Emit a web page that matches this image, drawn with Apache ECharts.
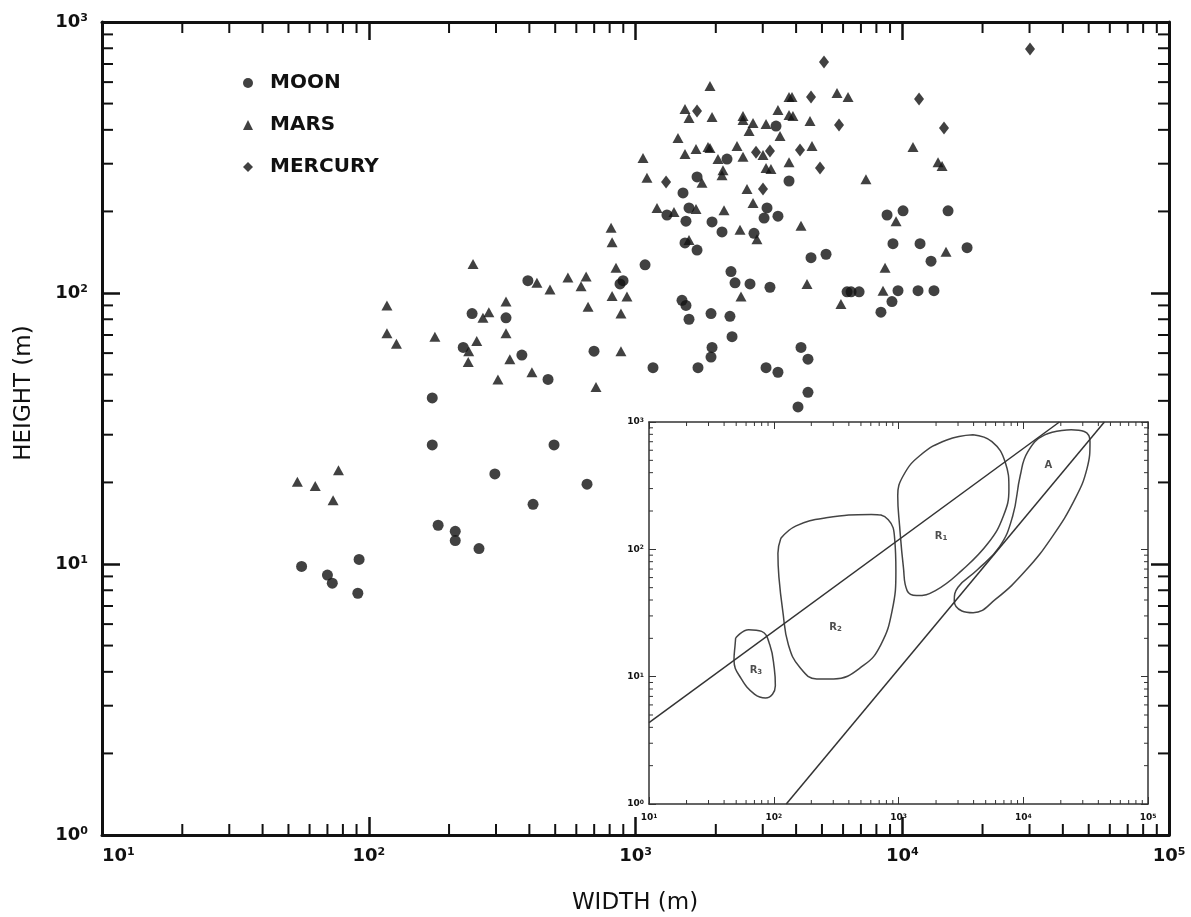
<!DOCTYPE html>
<html>
<head>
<meta charset="utf-8">
<script src="https://cdn.jsdelivr.net/npm/echarts@6/dist/echarts.min.js"></script>
<style>
  html, body { margin: 0; background: #fff; }
  #chart { width: 1191px; height: 917px; }
</style>
</head>
<body>
<div id="chart"></div>
<script>
// width (m), height (m)
const moonData = [
  [56, 9.8], [70, 9.1], [73, 8.5], [92, 10.4], [91, 7.8],
  [173, 41], [173, 27.5], [182, 13.9], [211, 13.2], [211, 12.2], [259, 11.4], [297, 21.5], [413, 16.6], [495, 27.5], [658, 19.7],
  [244, 84], [327, 81], [226, 63], [375, 59], [470, 48], [395, 111], [699, 61], [875, 108], [898, 111], [1086, 127], [1163, 53],
  [1494, 94], [1546, 90], [1587, 80], [1919, 84], [2260, 82], [2301, 69], [1936, 63], [1919, 58], [1715, 53], [3086, 53], [3420, 51],
  [3364, 413], [2203, 312], [1701, 268], [1507, 234], [1312, 194], [1587, 206], [3112, 206], [3034, 189], [3420, 192], [1546, 184],
  [1936, 183], [2110, 168], [2781, 166], [1533, 153], [1701, 144], [2280, 120], [2361, 109], [2687, 108], [3192, 105],
  [3763, 259], [8770, 194], [10070, 201], [14850, 201], [9230, 152], [11660, 152], [17500, 147], [5180, 139], [4550, 135],
  [12820, 131], [6210, 101], [6430, 101], [6890, 101], [9640, 102], [11460, 102], [13150, 102], [9150, 93], [8320, 85],
  [4173, 63], [4432, 57], [4432, 43], [4066, 38]
];

const marsData = [
  [54, 20.1], [63, 19.4], [77, 22.2], [73.5, 17.2],
  [117, 90], [117, 71], [127, 65],
  [246, 128], [177, 69], [254, 66.5], [237, 61], [236, 55.6], [282, 85], [268, 81], [327, 93], [327, 71], [338, 57], [409, 51], [305, 48],
  [427, 109], [478, 103], [558, 114], [653, 115], [625, 106], [664, 89], [810, 174], [817, 154], [845, 124], [817, 97.5], [929, 97],
  [882, 84], [882, 61], [711, 45],
  [1902, 580], [1533, 477], [1587, 442], [1936, 446], [2529, 450], [2529, 435], [2758, 424], [2665, 396], [3086, 420], [3420, 473],
  [3482, 380], [1443, 373], [1533, 326], [1686, 340], [1870, 346], [1902, 343], [2402, 349], [2529, 318], [3006, 323], [2038, 312],
  [2128, 284], [2110, 272], [3086, 289], [3219, 287], [1067, 315], [1104, 266], [1775, 255], [2618, 242], [1204, 206], [1394, 199],
  [1686, 204], [2147, 202], [2758, 215], [2465, 171], [2853, 158], [1587, 157], [2486, 97],
  [3763, 529], [3861, 529], [5694, 547], [6263, 529], [3763, 454], [3892, 450], [4510, 431], [4588, 349], [3763, 304],
  [10970, 346], [13620, 304], [14100, 294], [7310, 263], [9480, 184], [4173, 177], [14590, 142], [8620, 124], [4395, 108],
  [8470, 102], [5890, 91]
];

const mercuryData = [
  [1701, 469], [2830, 331], [3192, 334], [1302, 257], [3006, 242], [30130, 795], [5089, 712], [4550, 529],
  [11560, 520], [5794, 417], [14340, 406], [4137, 337], [4917, 289]
];

// inset: outlines of the fields and the two straight lines
const r3Outline = [
  [49.5, 20.1], [63, 23.4], [80, 22.7], [93, 17.8], [101, 11.6], [103, 8.5], [86, 6.8], [70, 7.3], [55, 9.6], [48, 13.5], [49, 17.8], [49.5, 20.1]
];
const r2Outline = [
  [114, 122], [151, 153], [263, 177], [605, 188], [828, 171], [933, 119], [953, 68], [889, 33], [721, 17.8], [527, 12.3],
  [302, 9.6], [221, 9.6], [161, 11.9], [131, 17.8], [118, 33], [110, 60.5], [108, 93], [114, 122]
];
const r1Outline = [
  [3963, 793], [2438, 723], [1496, 548], [1094, 380], [986, 263], [1021, 152], [1094, 72.8], [1172, 47.4], [1396, 43.3],
  [1977, 47.4], [3221, 68.4], [5236, 112], [6918, 182], [7674, 297], [7161, 485], [5610, 701], [3963, 793]
];
const aOutline = [
  [24210, 869], [14860, 793], [10860, 583], [9462, 380], [8222, 182], [6457, 105], [4246, 68.4], [2999, 50.4], [2799, 39.4],
  [3221, 32.8], [3963, 31.8], [6012, 40.6], [10500, 68.4], [17100, 126], [25940, 248], [32430, 430], [34280, 701], [30830, 843],
  [24210, 869]
];
const line1 = [[10, 4.35], [19500, 1000]];
const line2 = [[126, 1], [44700, 1000]];

const regionNames = ['R3', 'R2', 'R1', 'A'];
const regionPos = [[72, 11.2], [313, 24.2], [2190, 126], [15900, 457]];

const xDecades = [10, 100, 1000, 10000];
const yDecades = [1, 10, 100];
const minorSteps = [2, 3, 4, 5, 6, 7, 8, 9];

const FONT = 'DejaVu Sans';
const INK = '#111';

const minorOf = decades => decades.flatMap(d => minorSteps.map(m => m * d));

function supLabel(size, supSize, margin) {
  return {
    margin: margin,
    formatter: v => '{b|10}{s|' + Math.round(Math.log10(v)) + '}',
    rich: {
      b: { fontSize: size, fontWeight: 'bold', fontFamily: FONT, color: INK },
      s: { fontSize: supSize, fontWeight: 'bold', fontFamily: FONT, color: INK, verticalAlign: 'top' }
    }
  };
}

function logAxis(grid, pos, min, max, o) {
  return {
    type: 'log', logBase: 10, gridIndex: grid, position: pos, min: min, max: max,
    z: o.z,
    axisLine: { lineStyle: { color: o.color, width: o.lineW } },
    axisTick: { inside: true, length: o.tickLen, lineStyle: { color: o.color, width: o.tickW } },
    axisLabel: o.label ? o.label : { show: false },
    splitLine: { show: false }
  };
}

// minor ticks on both sides of a grid, placed through the axes
function minorTicks(xi, yi, vals, isX, lo, hi, len, lw, color, z) {
  return {
    type: 'custom', xAxisIndex: xi, yAxisIndex: yi, silent: true, clip: false, z: z,
    data: vals.map(v => isX ? [v, lo[1]] : [lo[0], v]),
    renderItem: (params, api) => {
      const v = api.value(isX ? 0 : 1);
      const a = api.coord(isX ? [v, lo[1]] : [lo[0], v]);
      const b = api.coord(isX ? [v, hi[1]] : [hi[0], v]);
      const style = { stroke: color, lineWidth: lw };
      const kids = isX ? [
        { type: 'line', shape: { x1: a[0], y1: a[1], x2: a[0], y2: a[1] - len }, style: style },
        { type: 'line', shape: { x1: b[0], y1: b[1], x2: b[0], y2: b[1] + len }, style: style }
      ] : [
        { type: 'line', shape: { x1: a[0], y1: a[1], x2: a[0] + len, y2: a[1] }, style: style },
        { type: 'line', shape: { x1: b[0], y1: b[1], x2: b[0] - len, y2: b[1] }, style: style }
      ];
      return { type: 'group', children: kids };
    }
  };
}

const chart = echarts.init(document.getElementById('chart'));

const mainStyle = { color: INK, lineW: 3, tickLen: 18, tickW: 2.5, z: 2 };
const insetStyle = { color: '#333', lineW: 1.5, tickLen: 7, tickW: 1, z: 11 };

const mainX = logAxis(0, 'bottom', 10, 100000, Object.assign({ label: supLabel(18, 11, 12) }, mainStyle));
mainX.axisLabel.alignMinLabel = 'left';

const outlineSeries = (data) => ({
  type: 'line', xAxisIndex: 2, yAxisIndex: 2, data: data, symbol: 'none', smooth: 0.45,
  lineStyle: { color: '#444', width: 1.5 }, silent: true, z: 12
});

const option = {
  backgroundColor: '#fff',
  animation: false,
  grid: [
    { left: 102, right: 22, top: 22, bottom: 82 },
    { left: 649, right: 43, top: 422, bottom: 113, show: true, backgroundColor: '#fff', borderWidth: 0, z: 10 }
  ],
  legend: {
    data: [{ name: 'MOON', icon: 'circle' }, { name: 'MARS', icon: 'triangle' }, { name: 'MERCURY', icon: 'diamond' }],
    orient: 'vertical', left: 243, top: 72, padding: 0,
    itemWidth: 10, itemHeight: 10, itemGap: 20, selectedMode: false,
    textStyle: { fontFamily: FONT, fontWeight: 'bold', fontSize: 20, color: INK, lineHeight: 22, padding: [0, 0, 0, 12] }
  },
  xAxis: [
    mainX,
    logAxis(0, 'top', 10, 100000, mainStyle),
    logAxis(1, 'bottom', 10, 100000, Object.assign({ label: supLabel(9, 6, 9) }, insetStyle)),
    logAxis(1, 'top', 10, 100000, insetStyle)
  ],
  yAxis: [
    logAxis(0, 'left', 1, 1000, Object.assign({ label: supLabel(18, 11, 14) }, mainStyle)),
    logAxis(0, 'right', 1, 1000, mainStyle),
    logAxis(1, 'left', 1, 1000, Object.assign({ label: supLabel(9, 6, 5) }, insetStyle)),
    logAxis(1, 'right', 1, 1000, insetStyle)
  ],
  graphic: [
    {
      type: 'text', x: 24, y: 393, rotation: Math.PI / 2,
      style: { text: 'HEIGHT (m)', fontFamily: FONT, fontSize: 23, fill: INK, textAlign: 'center', textVerticalAlign: 'middle', align: 'center', verticalAlign: 'middle' }
    },
    {
      type: 'text', x: 635, y: 903,
      style: { text: 'WIDTH (m)', fontFamily: FONT, fontSize: 23, fill: INK, textAlign: 'center', textVerticalAlign: 'middle', align: 'center', verticalAlign: 'middle' }
    }
  ],
  series: [
    { name: 'MOON', type: 'scatter', xAxisIndex: 0, yAxisIndex: 0, data: moonData, symbol: 'circle', symbolSize: 11, itemStyle: { color: INK }, z: 3 },
    { name: 'MARS', type: 'scatter', xAxisIndex: 0, yAxisIndex: 0, data: marsData, symbol: 'triangle', symbolSize: [11, 10], itemStyle: { color: INK }, z: 3 },
    { name: 'MERCURY', type: 'scatter', xAxisIndex: 0, yAxisIndex: 0, data: mercuryData, symbol: 'diamond', symbolSize: [10, 13], itemStyle: { color: INK }, z: 3 },

    minorTicks(0, 0, minorOf(xDecades), true, [10, 1], [100000, 1000], 11, 2, INK, 4),
    minorTicks(0, 0, minorOf(yDecades), false, [10, 1], [100000, 1000], 11, 2, INK, 4),
    minorTicks(2, 2, minorOf(xDecades), true, [10, 1], [100000, 1000], 4, 1, '#333', 12),
    minorTicks(2, 2, minorOf(yDecades), false, [10, 1], [100000, 1000], 4, 1, '#333', 12),

    outlineSeries(r3Outline),
    outlineSeries(r2Outline),
    outlineSeries(r1Outline),
    outlineSeries(aOutline),
    { type: 'line', xAxisIndex: 2, yAxisIndex: 2, data: line1, symbol: 'none', lineStyle: { color: '#333', width: 1.5 }, silent: true, z: 12 },
    { type: 'line', xAxisIndex: 2, yAxisIndex: 2, data: line2, symbol: 'none', lineStyle: { color: '#333', width: 1.5 }, silent: true, z: 12 },
    {
      type: 'scatter', xAxisIndex: 2, yAxisIndex: 2, symbolSize: 0, silent: true, z: 13,
      data: regionNames.map((n, i) => ({ name: n, value: regionPos[i] })),
      label: {
        show: true, position: 'inside',
        formatter: p => p.name.length > 1 ? '{r|' + p.name[0] + '}{u|' + p.name.slice(1) + '}' : '{r|' + p.name + '}',
        rich: {
          r: { fontFamily: FONT, fontWeight: 'bold', fontSize: 10, color: '#222' },
          u: { fontFamily: FONT, fontWeight: 'bold', fontSize: 7, color: '#222', verticalAlign: 'bottom' }
        }
      }
    }
  ]
};

chart.setOption(option);
</script>
</body>
</html>
